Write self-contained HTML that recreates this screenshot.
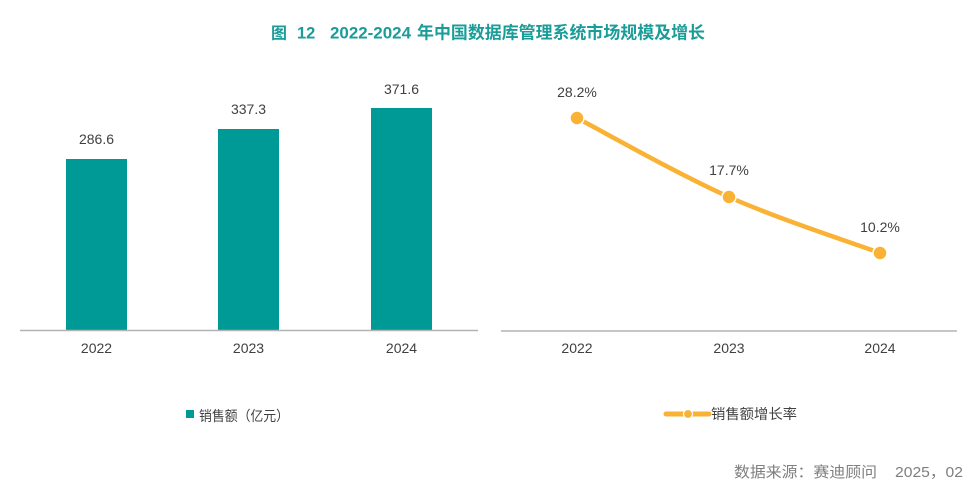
<!DOCTYPE html>
<html>
<head>
<meta charset="utf-8">
<style>
  html, body { margin:0; padding:0; background:#ffffff; }
  svg { display:block; }
</style>
</head>
<body>
<svg width="979" height="494" viewBox="0 0 979 494" xmlns="http://www.w3.org/2000/svg">
  <rect x="0" y="0" width="979" height="494" fill="#ffffff"/>

  <!-- Title -->
  <g fill="#1a9c98" font-weight="bold" font-family="'Liberation Sans','Noto Sans CJK SC',sans-serif">
    <text x="271" y="38.5" font-size="16">图</text>
    <text x="297" y="38.5" font-size="16.5">12</text>
    <text x="330" y="38.5" font-size="16.5" textLength="81" lengthAdjust="spacingAndGlyphs">2022-2024</text>
    <text x="417" y="38.5" font-size="17" textLength="288" lengthAdjust="spacingAndGlyphs">年中国数据库管理系统市场规模及增长</text>
  </g>

  <!-- Left chart: bars -->
  <g fill="#009a96">
    <rect x="66" y="159" width="61" height="171"/>
    <rect x="218" y="129" width="61" height="201"/>
    <rect x="371" y="108" width="61" height="222"/>
  </g>
  <line x1="20" y1="330.5" x2="478" y2="330.5" stroke="#b3b3b3" stroke-width="1.5"/>

  <g fill="#404040" font-size="14" font-family="'Liberation Sans',sans-serif" text-anchor="middle">
    <text x="96.5" y="144">286.6</text>
    <text x="248.5" y="114">337.3</text>
    <text x="401.5" y="94">371.6</text>
    <text x="96.5" y="353">2022</text>
    <text x="248.5" y="353">2023</text>
    <text x="401.5" y="353">2024</text>
  </g>

  <!-- Right chart: line -->
  <line x1="501" y1="331" x2="957" y2="331" stroke="#b3b3b3" stroke-width="1.5"/>
  <path d="M577,118 C602.3,131.2 678.5,174.5 729,197 C779.5,219.5 854.8,243.7 880,253"
        fill="none" stroke="#f9b233" stroke-width="4.5" stroke-linecap="round"/>
  <g fill="#f9b233" stroke="#ffffff" stroke-width="1.5">
    <circle cx="577" cy="118" r="7"/>
    <circle cx="729" cy="197" r="7"/>
    <circle cx="880" cy="253" r="7"/>
  </g>
  <g fill="#404040" font-size="14" font-family="'Liberation Sans',sans-serif" text-anchor="middle">
    <text x="577" y="97">28.2%</text>
    <text x="729" y="175">17.7%</text>
    <text x="880" y="232">10.2%</text>
    <text x="577" y="353">2022</text>
    <text x="729" y="353">2023</text>
    <text x="880" y="353">2024</text>
  </g>

  <!-- Legends -->
  <rect x="186" y="410" width="8" height="8" fill="#009a96"/>
  <text x="199" y="421" font-size="14" fill="#404040" textLength="90" lengthAdjust="spacingAndGlyphs"
        font-family="'Liberation Sans','Noto Sans CJK SC',sans-serif">销售额（亿元）</text>

  <line x1="666" y1="414" x2="709" y2="414" stroke="#f9b233" stroke-width="5" stroke-linecap="round"/>
  <circle cx="688" cy="414" r="4.5" fill="#f9b233" stroke="#ffffff" stroke-width="1.2"/>
  <text x="711" y="419" font-size="14" fill="#404040" textLength="86" lengthAdjust="spacingAndGlyphs"
        font-family="'Liberation Sans','Noto Sans CJK SC',sans-serif">销售额增长率</text>

  <!-- Source -->
  <g fill="#7f7f7f" font-size="15" font-family="'Liberation Sans','Noto Sans CJK SC',sans-serif">
    <text x="734" y="477" textLength="143" lengthAdjust="spacingAndGlyphs">数据来源：赛迪顾问</text>
    <text x="895" y="477" textLength="68" lengthAdjust="spacingAndGlyphs">2025，02</text>
  </g>
</svg>
</body>
</html>
